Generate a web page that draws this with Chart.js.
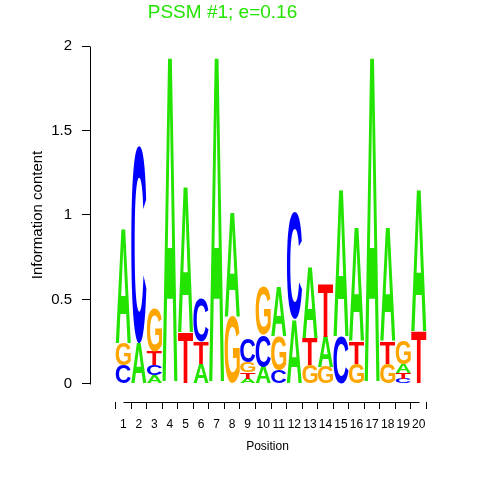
<!DOCTYPE html>
<html>
<head>
<meta charset="utf-8">
<script src="https://cdn.jsdelivr.net/npm/chart.js@4/dist/chart.umd.min.js"></script>
<style>
  html, body { margin: 0; padding: 0; background: #fff; }
</style>
</head>
<body>
<canvas id="logo" width="480" height="480"></canvas>
<script>
// Datos del logo (bits por letra en cada posición)
const titulo = 'PSSM #1; e=0.16';
const posiciones = [1, 2, 3, 4, 5, 6, 7, 8, 9, 10, 11, 12, 13, 14, 15, 16, 17, 18, 19, 20];
const valoresA = [0.68, 0.24, 0.05, 1.93, 0.86, 0.12, 1.93, 0.62, 0.03, 0.10, 0.29, 0.38, 0.42, 0.18, 0.87, 0.67, 1.93, 0.67, 0.05, 0.84];
const valoresC = [0.11, 1.17, 0.06, 0, 0, 0.26, 0, 0, 0.14, 0.19, 0.08, 0.63, 0, 0, 0.28, 0, 0, 0, 0.03, 0];
const valoresG = [0.13, 0, 0.26, 0, 0, 0, 0, 0.40, 0.06, 0.29, 0.20, 0, 0.11, 0.10, 0, 0.12, 0, 0.12, 0.14, 0];
const valoresT = [0, 0, 0.08, 0, 0.30, 0.13, 0, 0, 0.04, 0, 0, 0, 0.16, 0.31, 0, 0.13, 0, 0.13, 0.035, 0.31];
const yTicks = [0, 0.5, 1, 1.5, 2];
const yTickLabels = ['0', '0.5', '1', '1.5', '2'];

const verde = '#22e400';
const coloresLetras = { A: verde, C: '#0000ff', G: '#ffa500', T: '#ff0000' };
const fuente = '"Liberation Sans", Arial, Helvetica, sans-serif';

const letras = ['A', 'C', 'G', 'T'];
const valores = { A: valoresA, C: valoresC, G: valoresG, T: valoresT };

// un dataset por nivel de la pila: la letra más pequeña abajo
const niveles = [0, 1, 2, 3].map(() => ({
  data: [],
  letras: [],
  backgroundColor: 'rgba(0,0,0,0)',
  borderWidth: 0,
  barPercentage: 1,
  categoryPercentage: 0.97
}));
posiciones.forEach((p, j) => {
  const orden = letras.map(l => ({ l, v: valores[l][j] })).sort((a, b) => a.v - b.v);
  orden.forEach((o, r) => {
    niveles[r].data.push({ x: p, y: o.v });
    niveles[r].letras.push(o.l);
  });
});

function dibujarLetra(ctx, letra, x, y, w, h) {
  ctx.save();
  ctx.font = 'bold 200px ' + fuente;
  ctx.textAlign = 'left';
  ctx.textBaseline = 'alphabetic';
  const m = ctx.measureText(letra);
  const gw = m.actualBoundingBoxLeft + m.actualBoundingBoxRight;
  const gh = m.actualBoundingBoxAscent + m.actualBoundingBoxDescent;
  ctx.translate(x, y);
  ctx.scale(w / gw, h / gh);
  ctx.fillStyle = coloresLetras[letra];
  ctx.fillText(letra, m.actualBoundingBoxLeft, m.actualBoundingBoxAscent);
  ctx.restore();
}

const letrasPlugin = {
  id: 'letras',
  afterDatasetsDraw(chart) {
    const ctx = chart.ctx;
    chart.data.datasets.forEach((ds, i) => {
      const meta = chart.getDatasetMeta(i);
      meta.data.forEach((bar, j) => {
        const { x, y, base, width } = bar.getProps(['x', 'y', 'base', 'width'], true);
        const alto = Math.abs(base - y);
        if (alto < 0.5) return;
        dibujarLetra(ctx, ds.letras[j], x - width / 2, Math.min(y, base), width, alto);
      });
    });
  }
};

// ejes al estilo R: la línea sólo va del primer al último tick
const ejesPlugin = {
  id: 'ejes',
  afterDraw(chart) {
    const { ctx, chartArea, scales } = chart;
    const xs = scales.x, ys = scales.y;
    const ax = Math.round(chartArea.left) + 0.5;
    const ay = Math.round(chartArea.bottom) + 0.5;
    ctx.save();
    ctx.strokeStyle = '#000';
    ctx.lineWidth = 1;
    ctx.beginPath();
    ctx.moveTo(ax, Math.round(ys.getPixelForValue(yTicks[0])) + 0.5);
    ctx.lineTo(ax, Math.round(ys.getPixelForValue(yTicks[yTicks.length - 1])) + 0.5);
    ctx.moveTo(Math.round(xs.getPixelForValue(posiciones[0])) + 0.5, ay);
    ctx.lineTo(Math.round(xs.getPixelForValue(posiciones[posiciones.length - 1])) + 0.5, ay);
    ctx.stroke();
    // título del eje y, centrado entre 0 y 2
    const cy = (ys.getPixelForValue(yTicks[0]) + ys.getPixelForValue(yTicks[yTicks.length - 1])) / 2;
    ctx.translate(38, cy);
    ctx.rotate(-Math.PI / 2);
    ctx.fillStyle = '#000';
    ctx.font = '15px ' + fuente;
    ctx.textAlign = 'center';
    ctx.textBaseline = 'middle';
    ctx.fillText('Information content', 0, 0);
    ctx.restore();
  }
};

new Chart(document.getElementById('logo'), {
  type: 'bar',
  data: { datasets: niveles },
  plugins: [letrasPlugin, ejesPlugin],
  options: {
    responsive: false,
    animation: false,
    layout: { padding: { left: 0, right: 35, top: 0, bottom: 0 } },
    plugins: {
      legend: { display: false },
      tooltip: { enabled: false },
      title: {
        display: true,
        text: titulo,
        color: verde,
        font: { family: fuente, size: 19, weight: 'normal', lineHeight: 1 },
        padding: { top: 3, bottom: 24 }
      }
    },
    scales: {
      x: {
        type: 'linear',
        min: -0.57,
        max: 21.118,
        stacked: true,
        afterBuildTicks: s => { s.ticks = posiciones.map(v => ({ value: v })); },
        afterFit: s => { s.height = 78; },
        border: { display: false },
        grid: { drawOnChartArea: false, drawTicks: true, tickLength: 7, color: '#000' },
        ticks: {
          color: '#000',
          font: { family: fuente, size: 12 },
          padding: 8,
          autoSkip: false,
          maxRotation: 0,
          callback: v => String(v)
        },
        title: {
          display: true,
          text: 'Position',
          color: '#000',
          font: { family: fuente, size: 12 },
          padding: { top: 0, bottom: 26 }
        }
      },
      y: {
        min: -0.107,
        max: 2,
        stacked: true,
        afterBuildTicks: s => { s.ticks = yTicks.map(v => ({ value: v })); },
        afterFit: s => { s.width = 90; },
        border: { display: false },
        grid: { drawOnChartArea: false, drawTicks: true, tickLength: 8, color: '#000' },
        ticks: {
          color: '#000',
          font: { family: fuente, size: 15 },
          padding: 10,
          callback: v => yTickLabels[yTicks.indexOf(v)]
        }
      }
    }
  }
});
</script>
</body>
</html>
